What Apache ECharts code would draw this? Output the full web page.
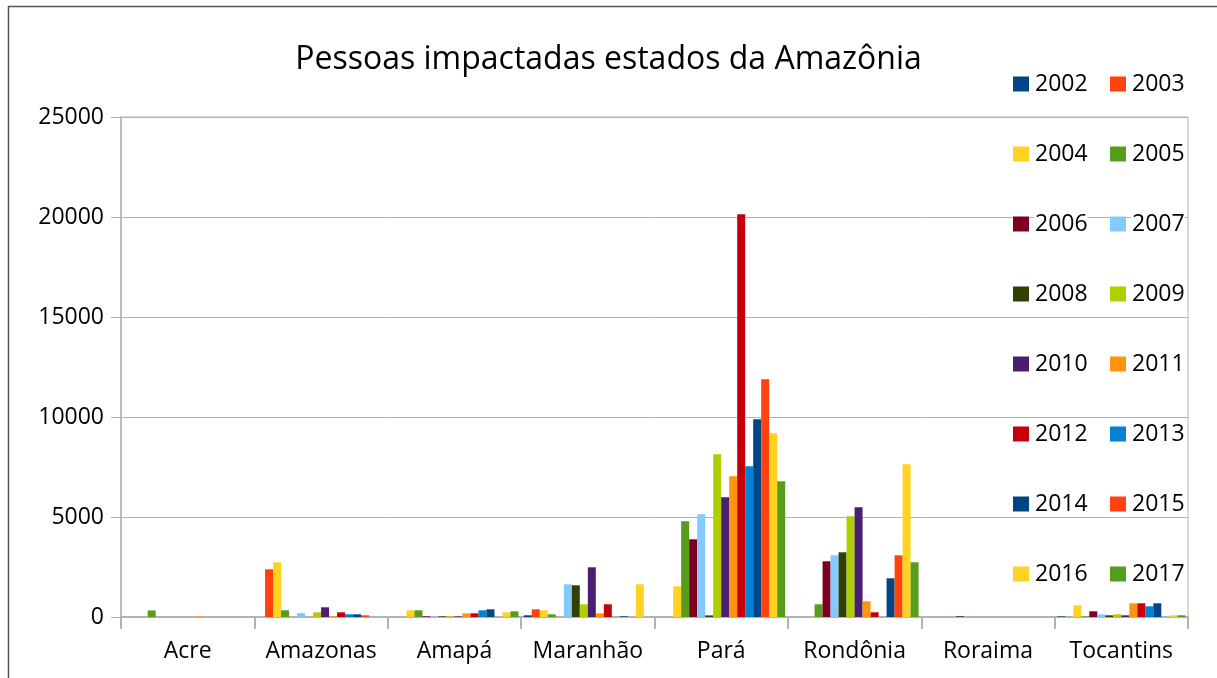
<!DOCTYPE html>
<html>
<head>
<meta charset="utf-8">
<script src="https://cdn.jsdelivr.net/npm/echarts@6/dist/echarts.min.js"></script>
<style>html,body{margin:0;padding:0;background:#fff;}#c{width:1217px;height:678px;}</style>
</head>
<body>
<div id="c"></div>
<script>
const states = ['Acre','Amazonas','Amapá','Maranhão','Pará','Rondônia','Roraima','Tocantins'];
const years = ['2002','2003','2004','2005','2006','2007','2008','2009','2010','2011','2012','2013','2014','2015','2016','2017'];
const yTicks = [0, 5000, 10000, 15000, 20000, 25000];

const v2002 = [0, 0, 0, 85, 0, 0, 0, 30];
const v2003 = [0, 2385, 0, 385, 0, 0, 0, 0];
const v2004 = [0, 2735, 335, 335, 1535, 0, 0, 585];
const v2005 = [330, 335, 335, 135, 4785, 635, 0, 30];
const v2006 = [0, 0, 35, 0, 3885, 2785, 35, 285];
const v2007 = [0, 200, 25, 1635, 5135, 3085, 0, 135];
const v2008 = [0, 0, 30, 1585, 80, 3235, 0, 85];
const v2009 = [0, 235, 30, 635, 8135, 5035, 0, 135];
const v2010 = [0, 485, 30, 2485, 5985, 5485, 0, 85];
const v2011 = [30, 35, 185, 185, 7035, 785, 0, 685];
const v2012 = [0, 235, 185, 635, 20135, 235, 0, 685];
const v2013 = [0, 135, 335, 0, 7535, 0, 0, 535];
const v2014 = [0, 135, 385, 35, 9885, 1935, 0, 685];
const v2015 = [0, 85, 0, 0, 11885, 3085, 0, 0];
const v2016 = [0, 0, 235, 1635, 9185, 7635, 0, 85];
const v2017 = [0, 0, 285, 0, 6785, 2735, 0, 85];

const values = [v2002,v2003,v2004,v2005,v2006,v2007,v2008,v2009,v2010,v2011,v2012,v2013,v2014,v2015,v2016,v2017];
const colors = ['#004586','#ff420e','#ffd320','#579d1c','#7e0021','#83caff','#314004','#aecf00','#4b1f6f','#ff950e','#c5000b','#0084d1','#004586','#ff420e','#ffd320','#579d1c'];

const FONT = 'Open Sans';
const chart = echarts.init(document.getElementById('c'), null, {renderer: 'canvas'});

const legendText = {fontFamily: FONT, fontSize: 23, color: '#000', lineHeight: 24, backgroundColor: '#fff', padding: [0, 0, 0, 1]};
const option = {
  animation: false,
  color: colors,
  title: {
    text: 'Pessoas impactadas estados da Amazônia',
    left: 'center',
    top: 39,
    textStyle: {fontFamily: FONT, fontSize: 32, fontWeight: 'normal', color: '#000'}
  },
  legend: [
    {
      data: years.filter((y, i) => i % 2 === 0),
      orient: 'vertical', left: 1008, top: 67,
      itemWidth: 16, itemHeight: 15, itemGap: 46,
      textStyle: legendText, icon: 'rect'
    },
    {
      data: years.filter((y, i) => i % 2 === 1),
      orient: 'vertical', left: 1105, top: 67,
      itemWidth: 16, itemHeight: 15, itemGap: 46,
      textStyle: legendText, icon: 'rect'
    }
  ],
  grid: {
    left: 121, right: 29, top: 117, bottom: 61,
    show: true, borderColor: '#b3b3b3', borderWidth: 1, backgroundColor: 'transparent',
    containLabel: false
  },
  xAxis: {
    type: 'category',
    data: states,
    axisLine: {lineStyle: {color: '#b3b3b3', width: 2}},
    axisTick: {show: true, length: 12, lineStyle: {color: '#b3b3b3', width: 2}},
    axisLabel: {fontFamily: FONT, fontSize: 23, color: '#000', margin: 23, interval: 0}
  },
  yAxis: {
    type: 'value',
    min: yTicks[0], max: yTicks[yTicks.length - 1], interval: 5000,
    axisLine: {show: true, lineStyle: {color: '#b3b3b3', width: 1.5}},
    axisTick: {show: true, length: 10, lineStyle: {color: '#b3b3b3'}},
    splitLine: {lineStyle: {color: '#b3b3b3', width: 1}},
    axisLabel: {fontFamily: FONT, fontSize: 23, color: '#000', margin: 17, formatter: v => String(v)}
  },
  graphic: [{
    type: 'rect', silent: true, z: 100,
    shape: {x: 8.5, y: 6.5, width: 1300, height: 800},
    style: {fill: 'none', stroke: '#555', lineWidth: 1.5}
  }],
  series: years.map((y, i) => ({
    name: y,
    type: 'bar',
    data: values[i],
    barGap: '0%',
    barCategoryGap: '4%',
    itemStyle: {color: colors[i]}
  }))
};
chart.setOption(option);
</script>
</body>
</html>
